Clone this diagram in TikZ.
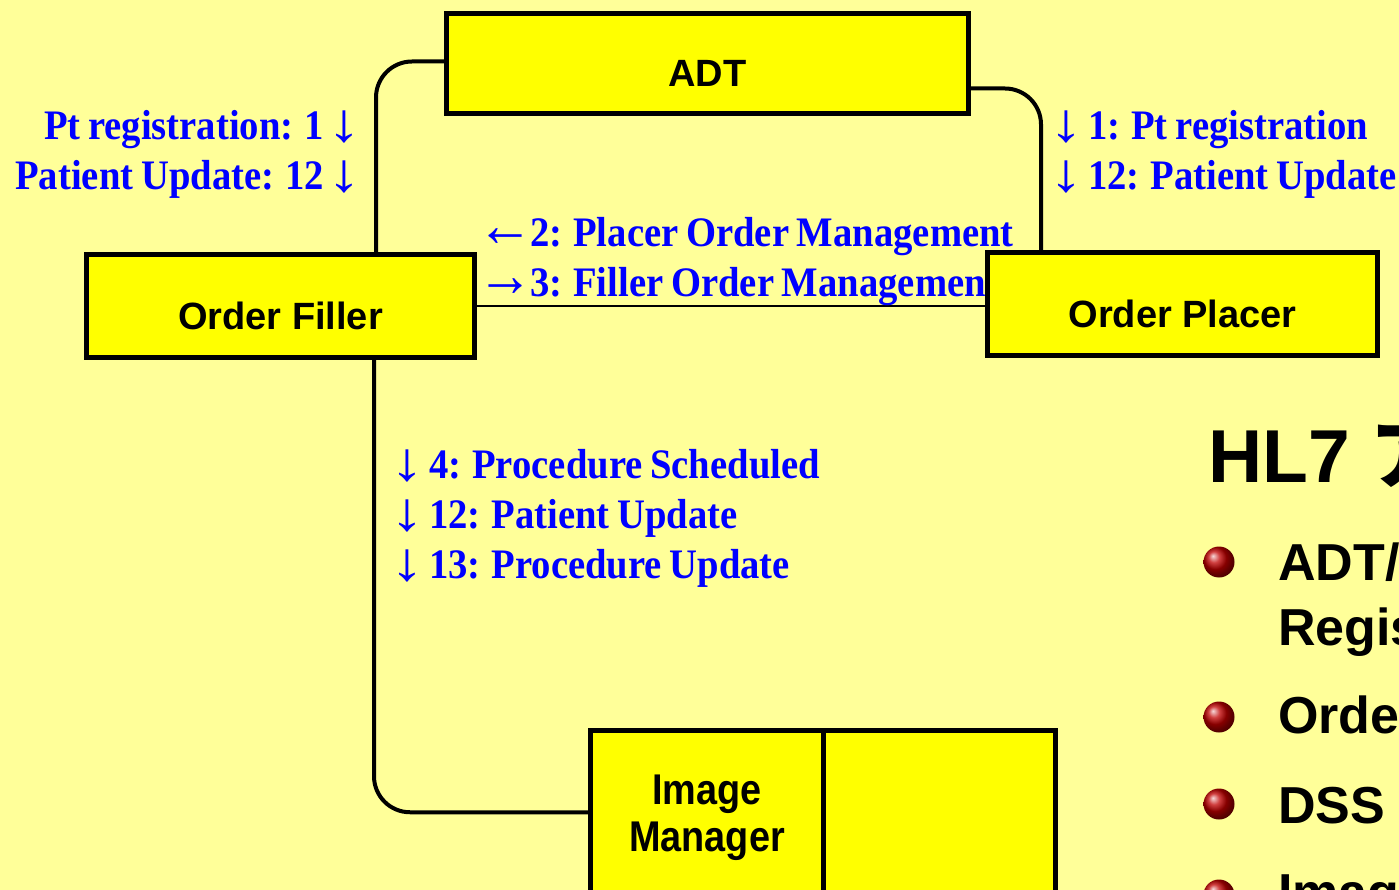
\documentclass[tikz,border=0pt]{standalone}
\usepackage{fontspec}
\usepackage{graphicx}
\setmainfont{Liberation Serif}
\newfontfamily\labfont{Liberation Serif}[FakeStretch=0.92, WordSpace=0.8]
\newfontfamily\boxfont{Liberation Sans}
\newfontfamily\narrowfont{Liberation Sans}[FakeStretch=0.88]
\newfontfamily\cjkfont{Noto Sans CJK JP}
\definecolor{bgyellow}{HTML}{FFFF99}
\definecolor{boxyellow}{HTML}{FFFF00}
\definecolor{labblue}{HTML}{0000FF}
\definecolor{ballred}{HTML}{C00000}
\tikzset{
  box/.style={draw=black, line width=5pt, fill=boxyellow, inner sep=0pt, outer sep=0pt},
  conn/.style={draw=black, line width=4pt, rounded corners=36pt},
  thinconn/.style={draw=black, line width=2.5pt},
  lab/.style={text=labblue, font=\labfont\bfseries\fontsize{42}{50}\selectfont, inner sep=0pt},
  boxtxt/.style={font=\boxfont\bfseries\fontsize{38}{46}\selectfont, inner sep=0pt},
  imgtxt/.style={font=\narrowfont\bfseries\fontsize{43}{47}\selectfont, inner sep=0pt, align=center},
  titletxt/.style={font=\boxfont\bfseries\fontsize{75}{80}\selectfont, inner sep=0pt},
  itemtxt/.style={font=\boxfont\bfseries\fontsize{52}{60}\selectfont, inner sep=0pt},
  bulletball/.style={circle, minimum size=31pt, inner sep=0pt, ball color=ballred}
}
\newcommand{\dn}{\makebox[21pt]{\smash{\raisebox{-2pt}{\scalebox{1.75}[1.3]{\mdseries\char"2193}}}}}
\newcommand{\lf}{\makebox[34pt]{\smash{\scalebox{1.45}[1.5]{\mdseries\char"2190}}}}
\newcommand{\rt}{\makebox[34pt]{\smash{\scalebox{1.45}[1.5]{\mdseries\char"2192}}}}
\begin{document}
\begin{tikzpicture}[x=1pt,y=-1pt]
\useasboundingbox (0,0) rectangle (1399,890);
\clip (0,0) rectangle (1399,890);
\fill[bgyellow] (0,0) rectangle (1399,890);

% box positions
\path (707.5,63.5) node[box, minimum width=522pt, minimum height=100pt] (adt) {};
\path (280.5,306) node[box, minimum width=388pt, minimum height=103pt] (filler) {};
\path (1182.5,304) node[box, minimum width=390pt, minimum height=103pt] (placer) {};

% connectors
\draw[conn] ([yshift=2pt]adt.west) -| ([xshift=95.5pt]filler.north);
\draw[conn] ([yshift=-25pt]adt.east) -| ([xshift=-141.5pt]placer.north);
\draw[thinconn] (filler.east) -- (filler.east -| placer.west);

% labels
\node[lab, anchor=base east] (l1) at (355,140) {Pt registration: 1\hspace{10pt}\dn};
\node[lab, anchor=base east] (l2) at (355,190) {Patient Update: 12\hspace{10pt}\dn};
\node[lab, anchor=base west] (r1) at (1056,140) {\dn\hspace{11pt}1: Pt registration};
\node[lab, anchor=base west] (r2) at (1056,190) {\dn\hspace{11pt}12: Patient Update};
\node[lab, anchor=base west] (m1) at (488,247) {\lf\hspace{8pt}2: Placer Order Management};
\node[lab, anchor=base west] (m2) at (488,297) {\rt\hspace{8pt}3: Filler Order Management};
\node[lab, anchor=base west] (b1) at (397,478) {\dn\hspace{11pt}4: Procedure Scheduled};
\node[lab, anchor=base west] (b2) at (397,528) {\dn\hspace{11pt}12: Patient Update};
\node[lab, anchor=base west] (b3) at (397,578) {\dn\hspace{11pt}13: Procedure Update};

% boxes on top
\node[box, minimum width=522pt, minimum height=100pt] (adtb) at (adt.center) {};
\node[box, minimum width=388pt, minimum height=103pt] (fillerb) at (filler.center) {};
\node[box, minimum width=390pt, minimum height=103pt] (placerb) at (placer.center) {};
\node[box, minimum width=232.5pt, minimum height=229.5pt] (imga) at (706.75,845.25) {};
\node[box, minimum width=232.5pt, minimum height=229.5pt] (imgb) at (939.25,845.25) {};

\draw[conn] ([xshift=93.5pt]filler.south) |- ([yshift=33pt]imga.west);

\node[boxtxt] (adtt) at ([yshift=-10pt]adt.center) {ADT};
\node[boxtxt] (fillert) at ([yshift=-10pt]filler.center) {Order Filler};
\node[boxtxt] (placert) at ([yshift=-10pt]placer.center) {Order Placer};
\node[imgtxt] (imgt) at (707,818) {Image\\Manager};

% right-hand text
\node[titletxt, anchor=base west] (title) at (1208,482) {HL7 {\cjkfont\bfseries ア}};
\node[bulletball] (ba) at (1219,562) {};
\node[bulletball] (bb) at (1219,717) {};
\node[bulletball] (bc) at (1219,804) {};
\node[bulletball] (bd) at (1219,895) {};
\node[itemtxt, anchor=base west] (ia) at (1278,580) {ADT/};
\node[itemtxt, anchor=base west] (ib) at (1278,645) {Regis};
\node[itemtxt, anchor=base west] (ic) at (1278,733) {Orde};
\node[itemtxt, anchor=base west] (id) at (1278,823) {DSS};
\node[itemtxt, anchor=base west] (ie) at (1278,910) {Imag};
\end{tikzpicture}
\end{document}
